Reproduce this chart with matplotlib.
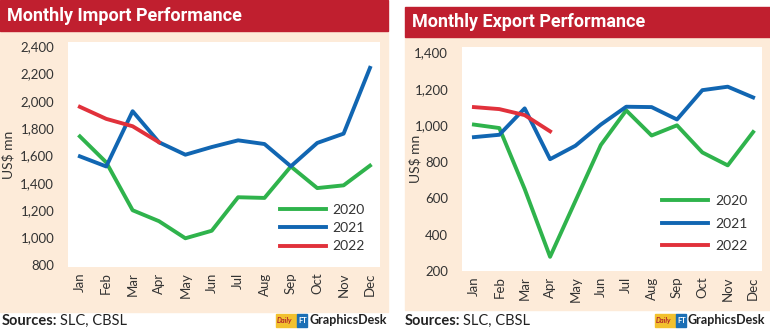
import matplotlib.pyplot as plt
from matplotlib.patches import Rectangle
from matplotlib.ticker import FuncFormatter

months = ['Jan', 'Feb', 'Mar', 'Apr', 'May', 'Jun', 'Jul', 'Aug', 'Sep', 'Oct', 'Nov', 'Dec']

# imports, US$ mn
imp_2020 = [1740, 1550, 1200, 1120, 995, 1050, 1295, 1290, 1520, 1362, 1382, 1526]
imp_2021 = [1594, 1520, 1924, 1697, 1606, 1662, 1711, 1684, 1521, 1692, 1760, 2241]
imp_2022 = [1956, 1868, 1814, 1697]

# exports, US$ mn
exp_2020 = [1004, 985, 650, 278, 585, 892, 1082, 944, 1000, 851, 780, 963]
exp_2021 = [935, 948, 1093, 814, 888, 1004, 1102, 1100, 1032, 1193, 1212, 1153]
exp_2022 = [1100, 1089, 1056, 967]

imp_ticks = [800, 1000, 1200, 1400, 1600, 1800, 2000, 2200, 2400]
exp_ticks = [200, 400, 600, 800, 1000, 1200, 1400]

GREEN = '#2fb34c'
BLUE = '#1166b2'
RED = '#e1313b'
BAR = '#c01f2f'
CREAM = '#fdebd9'
TXT = '#333333'

plt.rcParams['font.family'] = ['Lato', 'DejaVu Sans']

W, H = 770, 329
fig = plt.figure(figsize=(W / 100, H / 100), dpi=100)


def box(x0, y0, x1, y1, color, z=-10):
    # rectangle in pixel coords (top-left origin)
    fig.patches.append(Rectangle((x0 / W, 1 - y1 / H), (x1 - x0) / W, (y1 - y0) / H,
                                 transform=fig.transFigure, color=color, zorder=z))


def axes_px(x0, y0, x1, y1):
    return fig.add_axes([x0 / W, 1 - y1 / H, (x1 - x0) / W, (y1 - y0) / H])


# panels
box(0, 31, 388, 312, CREAM)
box(0, 0, 388, 31, BAR)
box(405, 37, 770, 310, CREAM)
box(405, 7, 770, 37, BAR)

fig.text(7 / W, 1 - 16 / H, 'Monthly Import Performance', color='white', fontsize=13,
         fontweight='bold', family='Roboto', va='center')
fig.text(412 / W, 1 - 22 / H, 'Monthly Export Performance', color='white', fontsize=13,
         fontweight='bold', family='Roboto', va='center')


def draw(ax, s20, s21, s22, ticks, ylim, xlim, labelpad, leg_anchor, leg_space):
    x = list(range(len(months)))
    ax.set_facecolor('white')
    ax.plot(x, s20, color=GREEN, lw=2.8, label='2020')
    ax.plot(x, s21, color=BLUE, lw=2.8, label='2021')
    ax.plot(x[:len(s22)], s22, color=RED, lw=2.8, label='2022')
    ax.set_xlim(*xlim)
    ax.set_ylim(*ylim)
    ax.set_yticks(ticks)
    ax.yaxis.set_major_formatter(FuncFormatter(lambda v, p: f'{int(v):,}'))
    ax.set_xticks(x)
    ax.set_xticklabels(months, rotation=90)
    ax.tick_params(length=0, labelsize=9.5, colors=TXT, pad=4)
    ax.tick_params(axis='y', pad=10)
    for s in ax.spines.values():
        s.set_visible(False)
    ax.set_ylabel('US$ mn', fontsize=10, color=TXT, labelpad=labelpad)
    leg = ax.legend(loc='lower right', bbox_to_anchor=leg_anchor, frameon=False, fontsize=10,
                    handlelength=3.3, labelspacing=leg_space, handletextpad=0.5,
                    borderaxespad=0.0)
    for t in leg.get_texts():
        t.set_color(TXT)


ax1 = axes_px(68, 42, 380, 267)
draw(ax1, imp_2020, imp_2021, imp_2022, imp_ticks, (785, 2430), (-0.45, 11.38),
     4, (0.97, 0.04), 0.45)

ax2 = axes_px(462, 47, 762, 271)
draw(ax2, exp_2020, exp_2021, exp_2022, exp_ticks, (200, 1430), (-0.47, 11.35),
     -5, (0.97, 0.06), 0.75)

# footers
renderer = fig.canvas.get_renderer()
for x0 in (2, 405):
    t = fig.text(x0 / W, 1 - 321 / H, 'Sources:', fontsize=10.5, fontweight='bold',
                 color='#222222', va='center')
    x_end = t.get_window_extent(renderer).x1
    fig.text(x_end / W + 3 / W, 1 - 321 / H, 'SLC, CBSL', fontsize=10.5, color='#222222',
             va='center')

for lx in (276, 655):
    box(lx, 314, lx + 21, 327, '#f2c12e', z=1)
    fig.text((lx + 1) / W, 1 - 320 / H, 'Daily', fontsize=5, style='italic', color='#b0202a',
             va='center', fontweight='bold')
    box(lx + 21, 314, lx + 31, 327, '#1b6fb5', z=1)
    fig.text((lx + 22) / W, 1 - 320.5 / H, 'FT', fontsize=5.5, color='white', va='center',
             fontweight='bold')
    fig.text((lx + 33) / W, 1 - 320.5 / H, 'GraphicsDesk', fontsize=9, color='#222222',
             va='center', fontweight='bold')

fig.savefig('out.png', dpi=100)
